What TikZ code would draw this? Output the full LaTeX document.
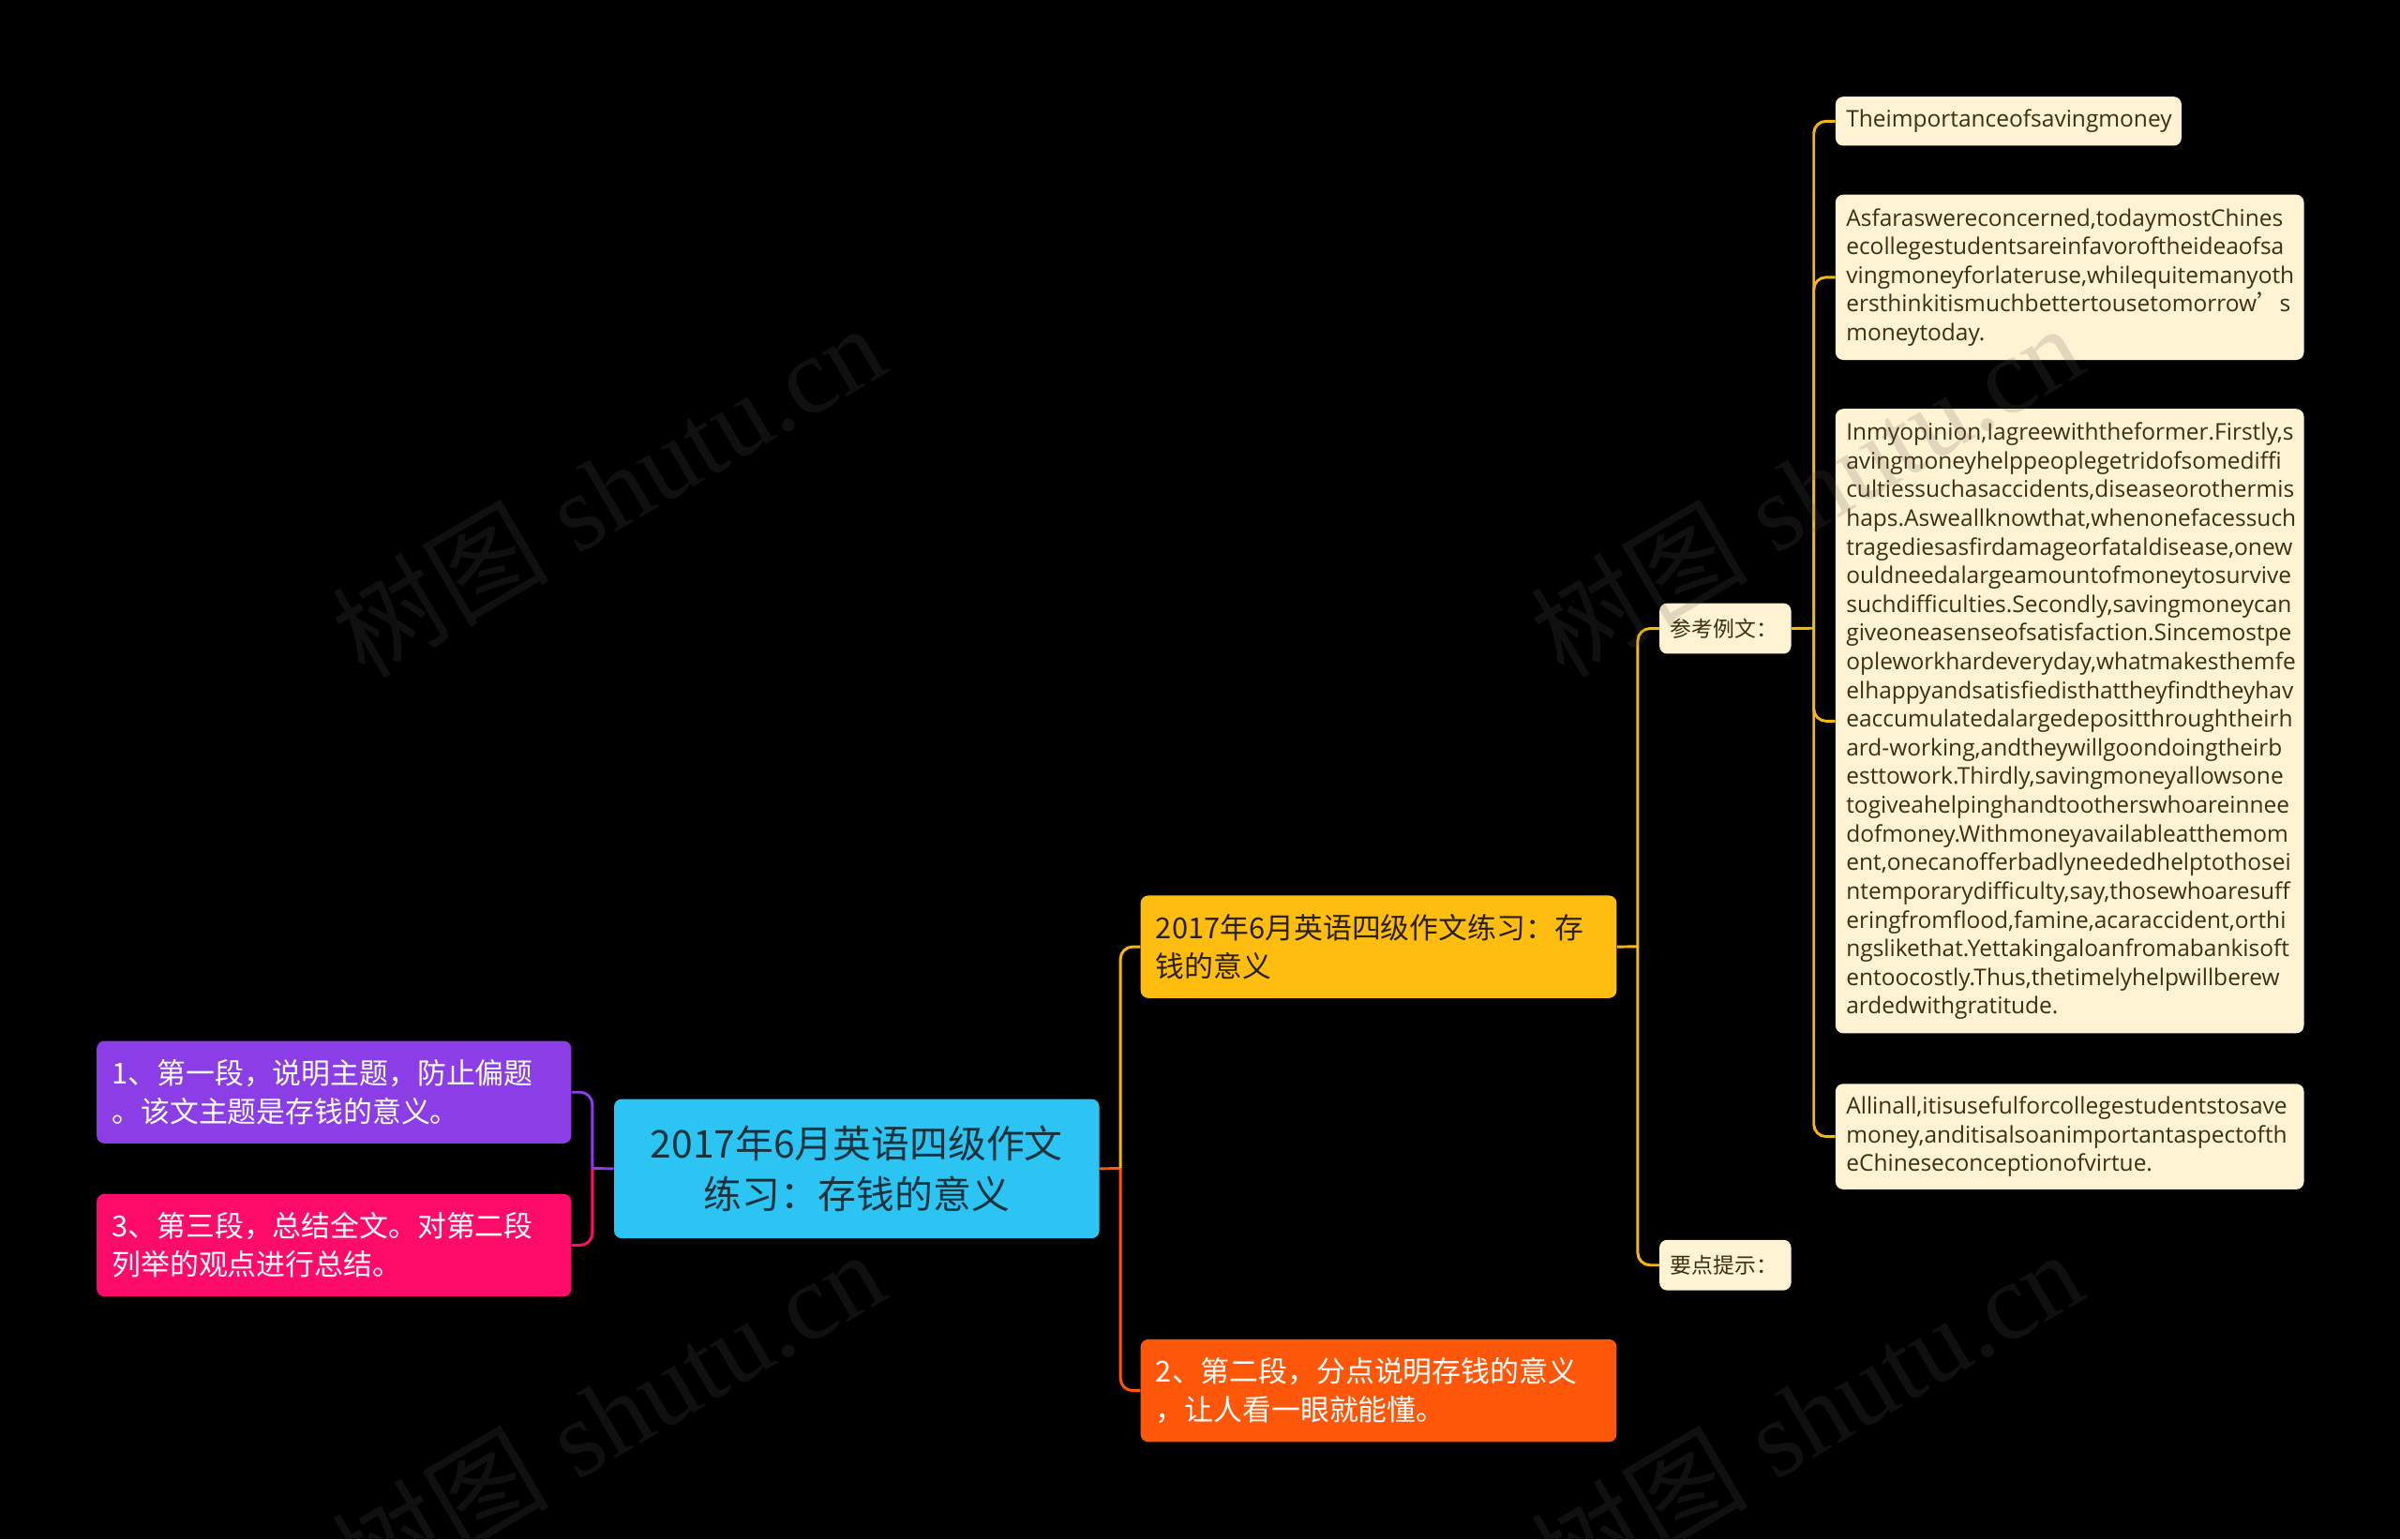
\documentclass[tikz,border=0pt]{standalone}
\usepackage{fontspec}
\setmainfont{Open Sans}
\newfontfamily\cjk{Noto Sans CJK SC}
\newfontfamily\wmserif{Liberation Serif}
\definecolor{purpleC}{HTML}{8B3DE6}
\definecolor{pinkC}{HTML}{FF0B6A}
\definecolor{rootC}{HTML}{2CC5F3}
\definecolor{yellowC}{HTML}{FFBE0F}
\definecolor{orangeC}{HTML}{FF570A}
\definecolor{creamC}{HTML}{FFF3D3}
\definecolor{lineY}{HTML}{F5B80F}
\definecolor{darkT}{HTML}{2A2208}
\definecolor{rootT}{HTML}{17333D}
\definecolor{leafT}{HTML}{3B2F14}
\definecolor{wmC}{HTML}{5A5A5A}
\begin{document}
\begin{tikzpicture}[x=1pt,y=-1pt,
  box/.style={rectangle, rounded corners=5pt, anchor=north west, inner xsep=10pt, inner ysep=0pt, align=left, font=\cjk\fontsize{18.9}{25}\selectfont},
  leaf/.style={rectangle, rounded corners=5pt, fill=creamC, anchor=north west, inner xsep=7pt, inner ysep=0pt, align=left, text=leafT, font=\fontsize{15}{18.75}\selectfont},
  small/.style={rectangle, rounded corners=5pt, fill=creamC, anchor=north west, inner xsep=7pt, inner ysep=0pt, align=left, text=leafT, font=\cjk\fontsize{14}{18}\selectfont},
  conn/.style={line width=1.8pt},
  rc/.style={conn, rounded corners=8pt},
  wm/.style={rotate=30.5, text=wmC, text opacity=0.18, font=\fontsize{71}{75}\selectfont}
]
\fill[black] (0,0) rectangle (1568,1006);
\useasboundingbox (0,0) rectangle (1568,1006);

% nodes
\node[box, fill=rootC, text=rootT, align=center, text width=297pt, minimum height=91pt, font=\cjk\fontsize{25}{33}\selectfont] (root) at (401,718) {2017年6月英语四级作文\\练习：存钱的意义};
\node[box, fill=purpleC, text=white, text width=290pt, minimum height=67pt] (p1) at (63,680) {1、第一段，说明主题，防止偏题\\。该文主题是存钱的意义。};
\node[box, fill=pinkC, text=white, text width=290pt, minimum height=67pt] (p3) at (63,780) {3、第三段，总结全文。对第二段\\列举的观点进行总结。};
\node[box, fill=yellowC, text=darkT, text width=291pt, minimum height=67pt] (ty) at (745,585) {2017年6月英语四级作文练习：存\\钱的意义};
\node[box, fill=orangeC, text=white, text width=291pt, minimum height=67pt] (p2) at (745,875) {2、第二段，分点说明存钱的意义\\，让人看一眼就能懂。};
\node[small, text width=72pt, minimum height=33pt] (ck) at (1084,394) {参考例文：};
\node[small, text width=72pt, minimum height=33pt] (yd) at (1084,810) {要点提示：};

\node[leaf, text width=212pt, minimum height=32pt] (l1) at (1199,63) {Theimportanceofsavingmoney};
\node[leaf, text width=292pt, minimum height=108pt] (l2) at (1199,127) {Asfaraswereconcerned,todaymostChines\\ecollegestudentsareinfavoroftheideaofsa\\vingmoneyforlateruse,whilequitemanyoth\\ersthinkitismuchbettertousetomorrow{\cjk ’}s\\moneytoday.};
\node[leaf, text width=292pt, minimum height=408pt] (l3) at (1199,267) {Inmyopinion,Iagreewiththeformer.Firstly,s\\avingmoneyhelppeoplegetridofsomediffi\\cultiessuchasaccidents,diseaseorothermis\\haps.Asweallknowthat,whenonefacessuch\\tragediesasfirdamageorfataldisease,onew\\ouldneedalargeamountofmoneytosurvive\\suchdifficulties.Secondly,savingmoneycan\\giveoneasenseofsatisfaction.Sincemostpe\\opleworkhardeveryday,whatmakesthemfe\\elhappyandsatisfiedisthattheyfindtheyhav\\eaccumulatedalargedepositthroughtheirh\\ard-working,andtheywillgoondoingtheirb\\esttowork.Thirdly,savingmoneyallowsone\\togiveahelpinghandtootherswhoareinnee\\dofmoney.Withmoneyavailableatthemom\\ent,onecanofferbadlyneededhelptothosei\\ntemporarydifficulty,say,thosewhoaresuff\\eringfromflood,famine,acaraccident,orthi\\ngslikethat.Yettakingaloanfromabankisoft\\entoocostly.Thus,thetimelyhelpwillberew\\ardedwithgratitude.};
\node[leaf, text width=292pt, minimum height=69pt] (l4) at (1199,708) {Allinall,itisusefulforcollegestudentstosave\\money,anditisalsoanimportantaspectofth\\eChineseconceptionofvirtue.};

% connectors: root left
\coordinate (bl) at (387,763.5);
\draw[conn, purpleC] (root.west) -- (bl);
\draw[rc, purpleC] (bl) |- (p1.east);
\draw[rc, pinkC] (bl) |- (p3.east);
% root right
\coordinate (br) at (732,763.5);
\draw[conn, orangeC] (root.east) -- (br);
\draw[rc, lineY] (br) |- (ty.west);
\draw[rc, orangeC] (br) |- (p2.west);
% yellow topic right
\coordinate (by) at (1070,618.5);
\draw[conn, lineY] (ty.east) -- (by);
\draw[rc, lineY] (by) |- (ck.west);
\draw[rc, lineY] (by) |- (yd.west);
% ck right
\coordinate (bc) at (1185,410.5);
\draw[conn, lineY] (ck.east) -- (bc);
\draw[rc, lineY] (bc) |- (l1.west);
\draw[rc, lineY] (bc) |- (l2.west);
\draw[rc, lineY] (bc) |- (l3.west);
\draw[rc, lineY] (bc) |- (l4.west);

% watermarks
\node[wm] (w1) at (397,320) {{\cjk 树图} \wmserif shutu.cn};
\node[wm] (w2) at (1180,320) {{\cjk 树图} \wmserif shutu.cn};
\node[wm] (w3) at (397,925) {{\cjk 树图} \wmserif shutu.cn};
\node[wm] (w4) at (1180,925) {{\cjk 树图} \wmserif shutu.cn};
\end{tikzpicture}
\end{document}
